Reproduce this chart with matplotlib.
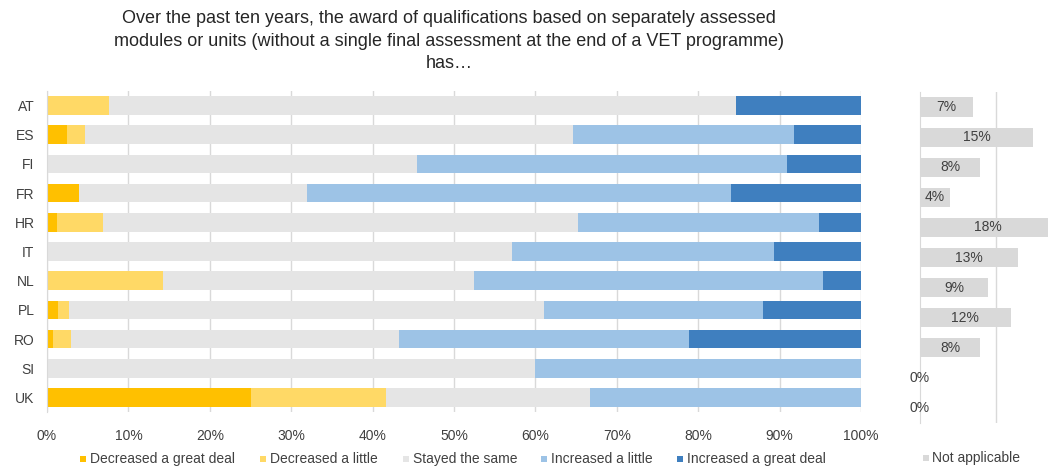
import matplotlib
matplotlib.use('Agg')
import matplotlib.pyplot as plt
from matplotlib.patches import Rectangle
import numpy as np

plt.rcParams['font.family'] = ['Liberation Sans', 'DejaVu Sans']

# Data (shares in %)
countries = ['AT', 'ES', 'FI', 'FR', 'HR', 'IT', 'NL', 'PL', 'RO', 'SI', 'UK']
decreased_great = [0, 2.5, 0, 3.9, 1.2, 0, 0, 1.3, 0.7, 0, 25.0]
decreased_little = [7.6, 2.2, 0, 0, 5.7, 0, 14.3, 1.4, 2.3, 0, 16.7]
stayed_same = [77.0, 59.9, 45.5, 28.0, 58.3, 57.1, 38.1, 58.3, 40.2, 60.0, 25.0]
increased_little = [0, 27.2, 45.4, 52.1, 29.7, 32.2, 42.9, 26.9, 35.7, 40.0, 33.3]
increased_great = [15.4, 8.2, 9.1, 16.0, 5.1, 10.7, 4.7, 12.1, 21.1, 0, 0]
not_applicable = [7, 15, 8, 4, 18, 13, 9, 12, 8, 0, 0]

series_names = ['Decreased a great deal', 'Decreased a little', 'Stayed the same',
                'Increased a little', 'Increased a great deal']
series = [decreased_great, decreased_little, stayed_same, increased_little, increased_great]
colors = ['#FFC000', '#FFD966', '#E5E5E5', '#9DC3E6', '#3F7FBF']
na_color = '#D9D9D9'
text_color = '#404040'
grid_color = '#D9D9D9'

W, H = 1048, 468
fig = plt.figure(figsize=(W / 100, H / 100), dpi=100)

# main stacked chart
ax = fig.add_axes([47 / W, 1 - 412 / H, 814 / W, 321 / H])
y = np.arange(len(countries))
left = np.zeros(len(countries))
for name, vals, col in zip(series_names, series, colors):
    vals = np.array(vals, dtype=float)
    ax.barh(y, vals, left=left, height=0.64, color=col, label=name, zorder=2)
    left += vals

ax.set_xlim(0, 100)
ax.set_ylim(len(countries) - 0.5, -0.5)
ax.set_yticks(y)
ax.set_yticklabels(countries, fontsize=10, color=text_color)
ax.set_xticks(np.arange(0, 101, 10))
ax.set_xticklabels([f'{v}%' for v in range(0, 101, 10)], fontsize=10, color=text_color)
ax.xaxis.grid(True, color=grid_color, linewidth=1, zorder=0)
ax.set_axisbelow(True)
for s in ['top', 'right', 'bottom']:
    ax.spines[s].set_visible(False)
ax.spines['left'].set_color(grid_color)
ax.tick_params(axis='both', length=0)
ax.tick_params(axis='x', pad=12)
ax.tick_params(axis='y', pad=9)

# side chart: not applicable
ax2 = fig.add_axes([920 / W, 1 - 423 / H, 128 / W, 331 / H])
ax2.barh(y, not_applicable, height=0.64, color=na_color, zorder=2)
ax2.set_xlim(0, 16.95)
ax2.set_ylim(len(countries) - 0.5, -0.5)
ax2.set_xticks([10])
ax2.xaxis.grid(True, color=grid_color, linewidth=1, zorder=0)
ax2.set_axisbelow(True)
ax2.set_yticks([])
ax2.set_xticklabels([])
ax2.tick_params(length=0)
for s in ['top', 'right', 'bottom']:
    ax2.spines[s].set_visible(False)
ax2.spines['left'].set_color(grid_color)
for yi, v in zip(y, not_applicable):
    ax2.text(v / 2, yi, f'{v}%', ha='center', va='center', fontsize=10,
             color=text_color, zorder=3, clip_on=False)

# title
fig.text(449 / W, 1 - 41 / H,
         'Over the past ten years, the award of qualifications based on separately assessed\n'
         'modules or units (without a single final assessment at the end of a VET programme)\n'
         'has\u2026',
         ha='center', va='center', fontsize=13, color='#262626', linespacing=1.4)

# legend, drawn by hand so items sit where the reference has them
legend_x = [80, 260, 403, 541, 677]
for xpos, name, col in zip(legend_x, series_names, colors):
    fig.add_artist(Rectangle((xpos / W, 1 - 462 / H), 6 / W, 6 / H,
                             transform=fig.transFigure, color=col, lw=0))
    fig.text((xpos + 10) / W, 1 - 459 / H, name, ha='left', va='center',
             fontsize=10, color=text_color)
fig.add_artist(Rectangle((923 / W, 1 - 461 / H), 6 / W, 6 / H,
                         transform=fig.transFigure, color=na_color, lw=0))
fig.text(932 / W, 1 - 458 / H, 'Not applicable', ha='left', va='center',
         fontsize=10, color=text_color)

fig.savefig('out.png', dpi=100)
